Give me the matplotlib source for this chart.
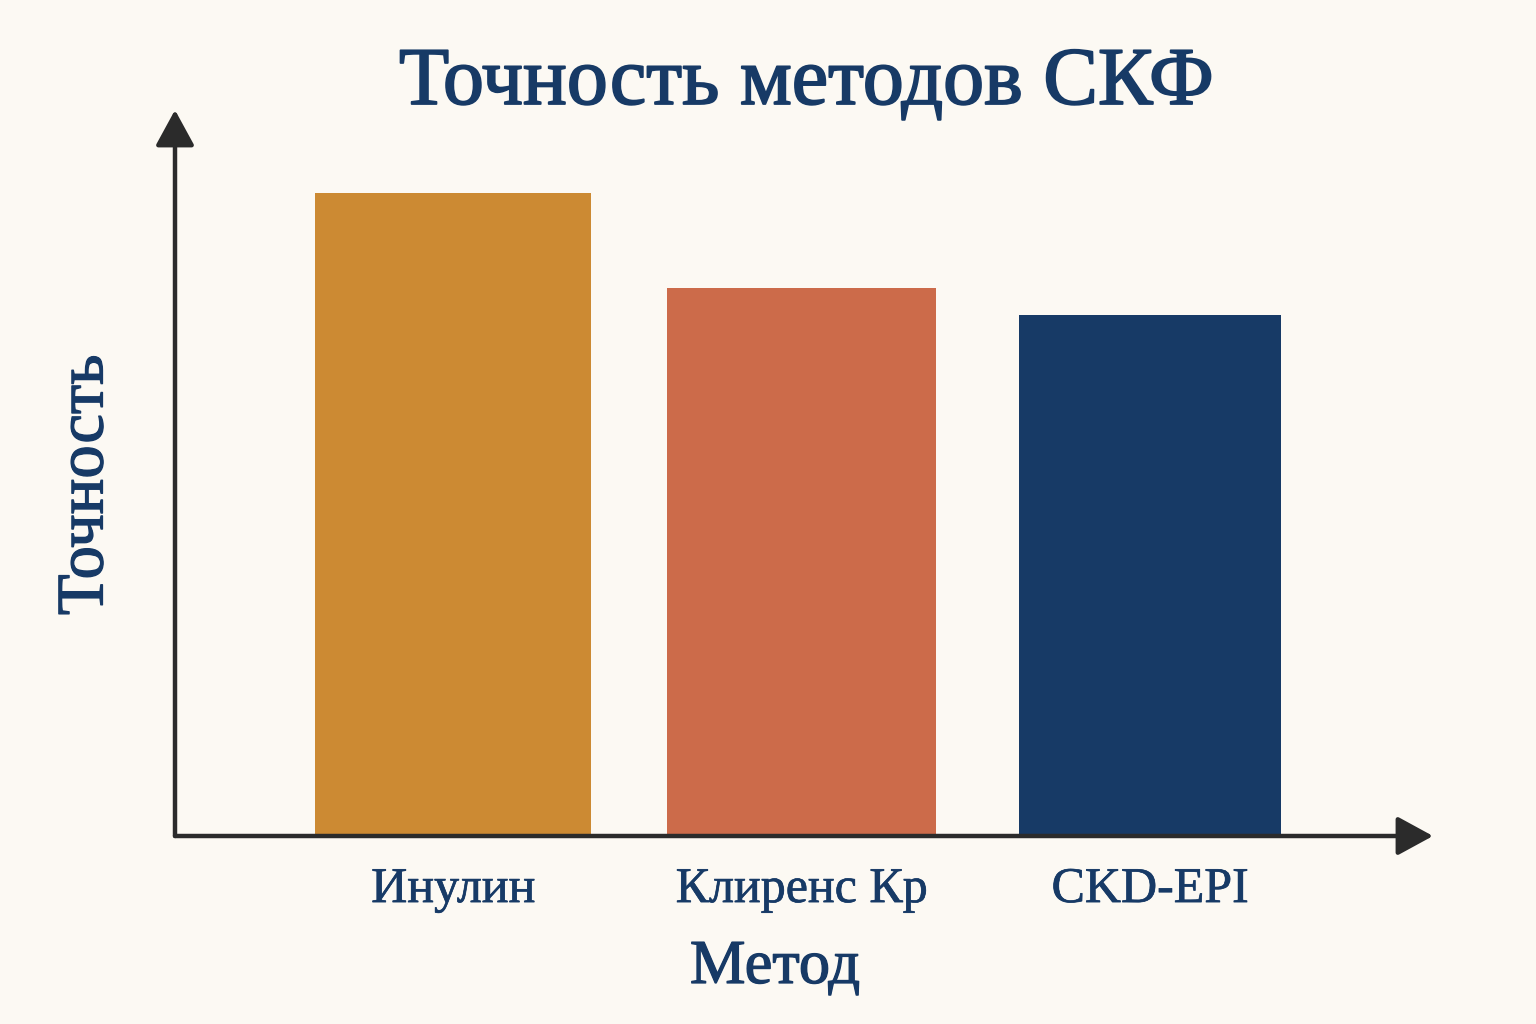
import matplotlib.pyplot as plt
import matplotlib.patheffects as pe

# данные
metody = ['Инулин', 'Клиренс Кр', 'CKD-EPI']
tochnost = [95, 81, 77]
shiriny = [0.79, 0.77, 0.75]
cveta = ['#CC8A33', '#CC6B4A', '#173A66']

fon = '#FCF9F3'
tekst = '#173A66'
os_cvet = '#2B2B2B'

plt.rcParams['font.family'] = ['Liberation Serif', 'DejaVu Serif']

fig = plt.figure(figsize=(15.36, 10.24), dpi=100, facecolor=fon)
ax = fig.add_axes([175 / 1536, 188 / 1024, (1433 - 175) / 1536, (836 - 110) / 1024])
ax.set_facecolor(fon)

ax.bar(range(len(metody)), tochnost, width=shiriny, color=cveta, zorder=1)
ax.set_xlim(-0.798, 2.812)
ax.set_ylim(0, 107.3)

for s in ax.spines.values():
    s.set_visible(False)
ax.set_yticks([])
ax.set_xticks(range(len(metody)), metody)
ax.tick_params(axis='x', length=0, pad=22, labelsize=36, labelcolor=tekst)

zhirnee = [pe.withStroke(linewidth=0.9, foreground=tekst)]
for t in ax.get_xticklabels():
    t.set_path_effects([pe.withStroke(linewidth=0.5, foreground=tekst)])

# оси со стрелками
strelka = dict(arrowstyle='-|>,head_length=1.1,head_width=0.6', color=os_cvet,
               lw=3.2, mutation_scale=20, shrinkA=0, shrinkB=0)
ax.annotate('', xy=(0, 1), xytext=(0, 0), xycoords='axes fraction',
            arrowprops=strelka, zorder=3, annotation_clip=False)
ax.annotate('', xy=(1, 0), xytext=(0, 0), xycoords='axes fraction',
            arrowprops=strelka, zorder=3, annotation_clip=False)

fig.text(807 / 1536, 1 - 104 / 1024, 'Точность методов СКФ', ha='center', va='baseline',
         fontsize=59, color=tekst, path_effects=[pe.withStroke(linewidth=1.3, foreground=tekst)])
fig.text(775 / 1536, 1 - 983 / 1024, 'Метод', ha='center', va='baseline',
         fontsize=45, color=tekst, path_effects=zhirnee)
fig.text(86 / 1536, 1 - 485 / 1024, 'Точность', ha='center', va='center',
         rotation=90, fontsize=48, color=tekst, path_effects=zhirnee)

plt.savefig('out.png', dpi=100, facecolor=fon)
